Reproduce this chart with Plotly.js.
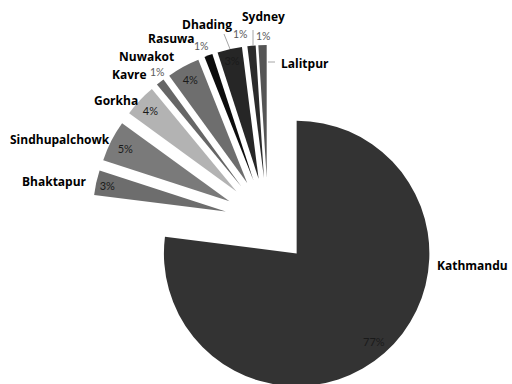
<!DOCTYPE html>
<html>
<head>
<meta charset="utf-8">
<script src="https://cdn.plot.ly/plotly-3.0.1.min.js"></script>
<style>
html,body{margin:0;padding:0;overflow:hidden;background:#fff;}
#chart{width:512px;height:400px;}
</style>
</head>
<body>
<div id="chart"></div>
<script>
const labels = ['Kathmandu','Bhaktapur','Sindhupalchowk','Gorkha','Kavre','Nuwakot','Rasuwa','Dhading','Sydney','Lalitpur'];
const values = [77,3,5,4,1,4,1,3,1,1];
const colors = ['#333333','#6d6d6d','#7a7a7a','#b3b3b3','#666666','#6e6e6e','#0d0d0d','#262626','#2b2b2b','#555555'];

// ---- layout geometry (not data) ----
const W = 512, H = 400, MT = 45, MB = 3;
const pullFrac = 0.326;
const pieDomain = {x: [0.17, 0.877], y: [0, 1]};
const pulls = values.map(() => pullFrac);
const total = values.reduce((a, b) => a + b, 0);
const small = values.map(v => v / total <= 0.015);

// label anchor positions in page pixels (label placement, index-aligned to labels)
const namePos = [[472,265],[54,181],[60,139],[116,101],[129,74],[146,56],[171,39],[207,24],[263,17],[305,63]];
const smallPctPos = {4:[157,72], 6:[201,46], 8:[240,34], 9:[263,36]};
const leaders = [[[224,34],[230,49]], [[253,30],[253,46]], [[268,62],[275,62]]];

const px = x => x / W;
const py = y => (H - MB - y) / (H - MT - MB);

const sliceTrace = {
  type: 'pie', labels: labels, values: values, sort: false,
  direction: 'clockwise', rotation: 0, pull: pulls,
  marker: {colors: colors, line: {width: 0}},
  textinfo: 'none', domain: pieDomain, hoverinfo: 'skip', showlegend: false
};

const pctTrace = {
  type: 'pie', labels: labels, values: values, sort: false,
  direction: 'clockwise', rotation: 0, pull: pulls, hole: 0.76,
  marker: {colors: labels.map(() => 'rgba(0,0,0,0)'), line: {width: 0}},
  texttemplate: '%{percent:.0%}',
  textposition: small.map(s => s ? 'none' : 'inside'),
  insidetextorientation: 'horizontal',
  textfont: {family: 'Lato, sans-serif', size: 11, color: '#1a1a1a'},
  domain: pieDomain, hoverinfo: 'skip', showlegend: false
};

const annotations = [];
labels.forEach((lab, i) => {
  annotations.push({
    xref: 'paper', yref: 'paper', x: px(namePos[i][0]), y: py(namePos[i][1]),
    xanchor: 'center', yanchor: 'middle', showarrow: false,
    text: '<b>' + lab + '</b>',
    font: {family: 'Open Sans, sans-serif', size: 12, color: '#000000'}
  });
  if (small[i]) {
    const p = smallPctPos[i];
    annotations.push({
      xref: 'paper', yref: 'paper', x: px(p[0]), y: py(p[1]),
      xanchor: 'center', yanchor: 'middle', showarrow: false,
      text: Math.round(values[i] / total * 100) + '%',
      font: {family: 'Lato, sans-serif', size: 10.5, color: '#595959'}
    });
  }
});

const shapes = leaders.map(l => ({
  type: 'line', xref: 'paper', yref: 'paper',
  x0: px(l[0][0]), y0: py(l[0][1]), x1: px(l[1][0]), y1: py(l[1][1]),
  line: {color: '#a6a6a6', width: 1}
}));

const layout = {
  width: W, height: H,
  margin: {l: 0, r: 0, t: MT, b: MB},
  paper_bgcolor: '#ffffff', plot_bgcolor: '#ffffff',
  showlegend: false,
  uniformtext: {mode: 'show', minsize: 11},
  annotations: annotations,
  shapes: shapes
};

Plotly.newPlot('chart', [sliceTrace, pctTrace], layout, {displayModeBar: false, staticPlot: true});
</script>
</body>
</html>
